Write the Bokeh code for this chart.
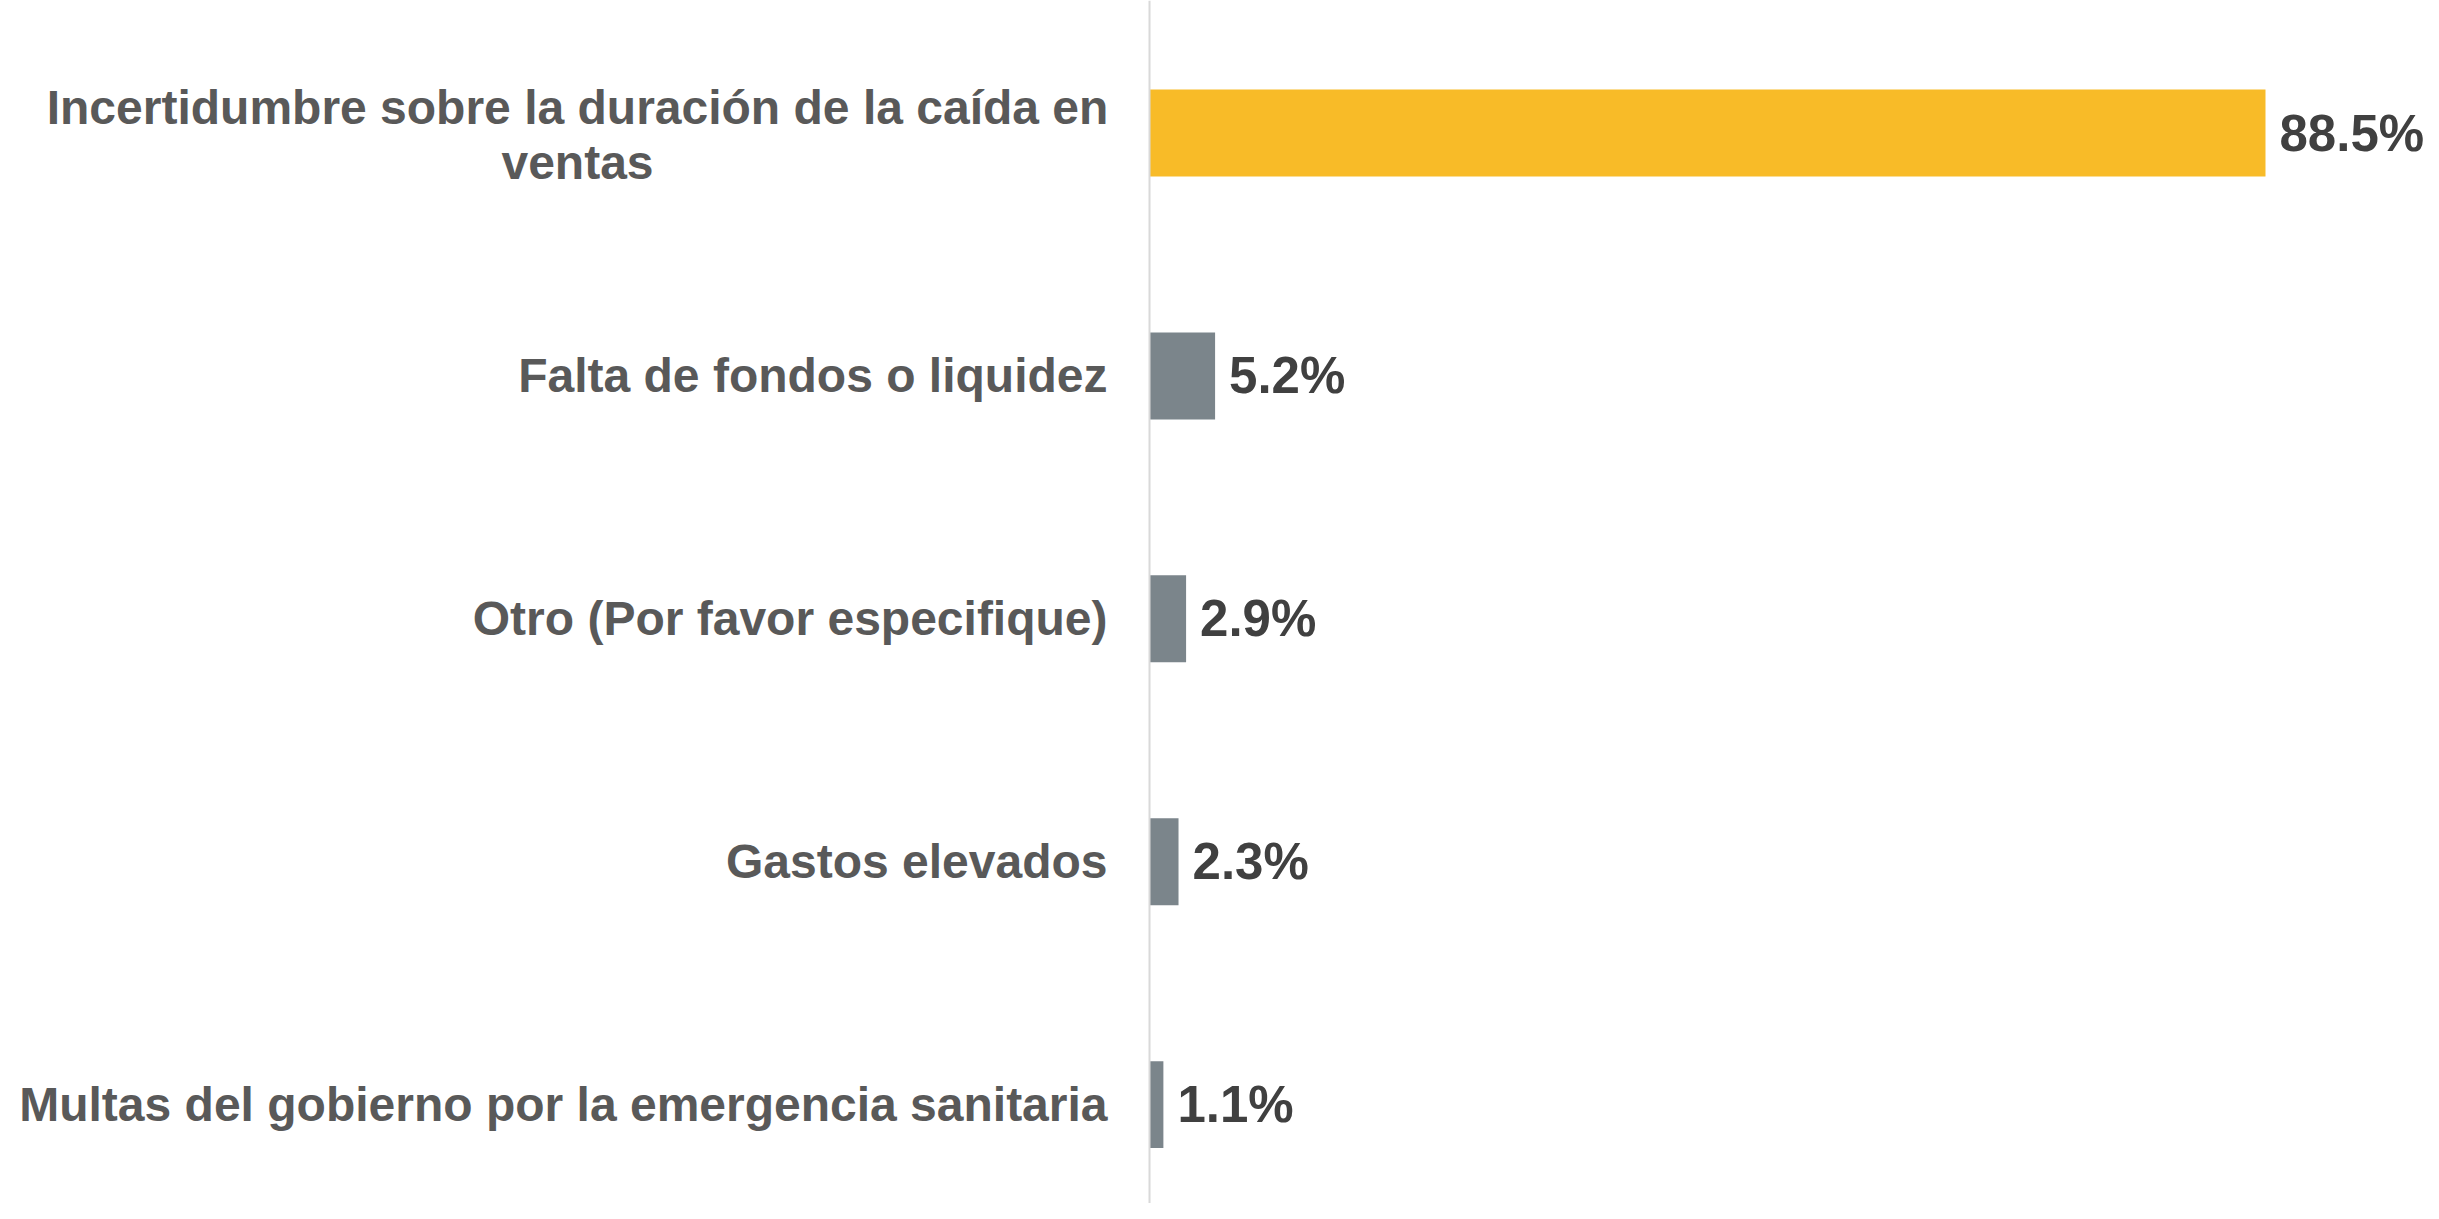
from bokeh.plotting import figure
from bokeh.models import ColumnDataSource, Range1d, Span
from bokeh.core.properties import value
from bokeh.embed import file_html
from bokeh.resources import INLINE

categories = [
    "Incertidumbre sobre la duración de la caída en\nventas",
    "Falta de fondos o liquidez",
    "Otro (Por favor especifique)",
    "Gastos elevados",
    "Multas del gobierno por la emergencia sanitaria",
]
values = [88.5, 5.2, 2.9, 2.3, 1.1]
value_labels = ["88.5%", "5.2%", "2.9%", "2.3%", "1.1%"]
bar_colors = ["#F8BB28", "#7B858B", "#7B858B", "#7B858B", "#7B858B"]

pos = list(range(len(categories)))

src = ColumnDataSource(dict(y=pos, v=values, lab=value_labels, c=bar_colors))

single = [i for i, c in enumerate(categories) if "\n" not in c]
multi = [i for i, c in enumerate(categories) if "\n" in c]
src_single = ColumnDataSource(dict(y=[pos[i] for i in single],
                                   cat=[categories[i] for i in single],
                                   zero=[0] * len(single)))
src_multi = ColumnDataSource(dict(y=[pos[i] for i in multi],
                                  cat=[categories[i] for i in multi],
                                  zero=[0] * len(multi)))

W, H = 2423, 1203
p = figure(width=W, height=H, output_backend="svg", toolbar_location=None,
           x_range=Range1d(-91.12, 101.03), y_range=Range1d(4.407, -0.5455),
           min_border=0, min_border_left=0, min_border_right=0,
           min_border_top=0, min_border_bottom=0)
p.axis.visible = False
p.grid.visible = False
p.outline_line_color = None
p.background_fill_color = "white"
p.border_fill_color = "white"

p.hbar(y="y", left=0, right="v", height=0.358, fill_color="c", line_color=None, source=src)

p.add_layout(Span(location=0, dimension="height", line_color="#D9D9D9", line_width=2))

label_style = dict(text_baseline="middle", text_font=value("Liberation Sans"),
                   text_font_style="bold", text_font_size="48px", text_color="#595959")

p.text(x="zero", y="y", text="cat", source=src_single, x_offset=-42,
       text_align="right", **label_style)
p.text(x="zero", y="y", text="cat", source=src_multi, x_offset=-572, y_offset=2,
       text_align="center", text_line_height=1.03, **label_style)

p.text(x="v", y="y", text="lab", source=src, x_offset=14,
       text_align="left", text_baseline="middle",
       text_font=value("Liberation Sans"), text_font_style="bold",
       text_font_size="51px", text_color="#404040")

open("out.html", "w").write(file_html(p, INLINE))
